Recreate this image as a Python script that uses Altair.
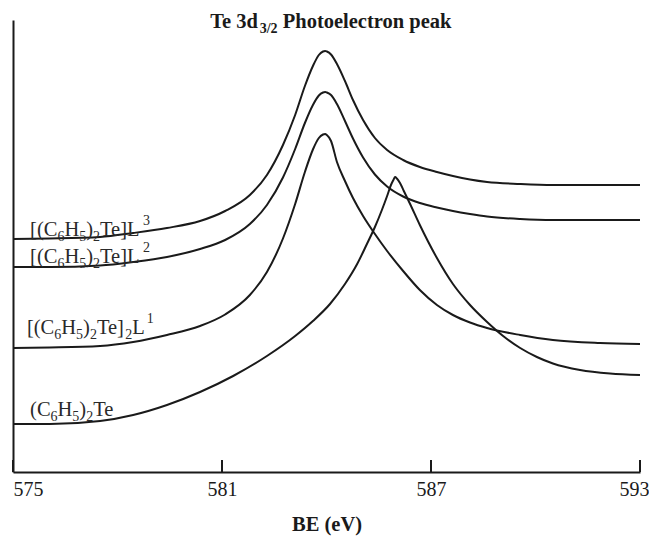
import altair as alt
import pandas as pd

# ---------------- data ----------------
# binding energy (eV) and intensity (arbitrary units) for each spectrum
BE_L3 = [575.00, 576.06, 577.50, 578.45, 579.42, 580.37, 581.09, 581.80, 582.29, 582.75,
         583.10, 583.38, 583.61, 583.78, 583.90, 583.96, 584.01, 584.13, 584.30, 584.53,
         584.76, 585.05, 585.39, 585.74, 586.20, 586.68, 587.17, 587.63, 588.12, 588.61,
         589.56, 590.50, 591.85, 593.00]
I_L3 = [233, 233.5, 235, 239, 244, 251, 261, 277, 297, 327,
        357, 386, 406, 417, 420.5, 421, 420.5, 417.5, 408, 391,
        372, 352, 334, 322, 312, 305, 300, 296, 292.5, 290,
        288, 287, 287, 287]

BE_L2 = BE_L3
I_L2 = [205, 205, 206.5, 210, 215, 223, 232, 248, 267, 294.5,
        323, 349, 367, 376.5, 379.5, 380, 379.5, 377, 368, 351,
        333.5, 314.5, 297.5, 285.5, 275.5, 269, 264.5, 261, 258, 255.5,
        253, 252, 252, 252]

BE_L1 = BE_L3
I_L1 = [124, 124.5, 126, 130, 137, 146, 157.5, 177, 200, 233.5,
        268, 300, 322.5, 334, 337.5, 338, 337, 331, 310, 291,
        274, 256, 238, 221, 201, 182, 167, 157, 149.5, 144,
        137, 132, 129, 128]

BE_TE = [575.00, 576.06, 577.50, 578.45, 579.42, 580.37, 581.32, 582.29, 583.10, 583.61,
         584.10, 584.53, 584.88, 585.16, 585.39, 585.59, 585.74, 585.85, 585.92, 585.97,
         586.02, 586.11, 586.22, 586.40, 586.68, 587.17, 587.63, 588.12, 588.61, 589.07,
         589.56, 590.04, 590.50, 591.28, 592.14, 593.00]
I_TE = [48, 48, 51, 57, 67, 80, 96, 116, 136, 151,
        168, 188, 208, 228, 245, 262, 276, 287, 292, 295,
        293.5, 289, 281, 268, 247, 214, 188, 167, 150, 136,
        124, 115, 108.5, 102, 98.5, 97]

SERIES = ["L3", "L2", "L1", "Te"]
TICK_VALUES = [575, 581, 587, 593]

# label texts split in (text, kind) pieces: n = normal, b = subscript, p = superscript
LABEL_PIECES = {
    "L3": [("[(C", "n"), ("6", "b"), ("H", "n"), ("5", "b"), (")", "n"), ("2", "b"), ("Te]L", "n"), ("3", "p")],
    "L2": [("[(C", "n"), ("6", "b"), ("H", "n"), ("5", "b"), (")", "n"), ("2", "b"), ("Te]L", "n"), ("2", "p")],
    "L1": [("[(C", "n"), ("6", "b"), ("H", "n"), ("5", "b"), (")", "n"), ("2", "b"), ("Te]", "n"), ("2", "b"),
           ("L", "n"), ("1", "p")],
    "Te": [("(C", "n"), ("6", "b"), ("H", "n"), ("5", "b"), (")", "n"), ("2", "b"), ("Te", "n")],
}
LABEL_BE = [575.49, 575.49, 575.40, 575.49]
LABEL_I = [236, 209, 138, 56]

TITLE_PIECES = [("Te 3d", "n"), ("3/2", "b"), (" Photoelectron peak", "n")]
TITLE_BE = 580.66
TITLE_I = 444

# ---------------- styling ----------------
W, H = 627, 452
X_DOMAIN = [575, 593]
Y_DOMAIN = [0, 452]
PX_PER_EV = W / (X_DOMAIN[1] - X_DOMAIN[0])
PX_PER_I = H / (Y_DOMAIN[1] - Y_DOMAIN[0])
INK = "#1a1a1a"
FONT = "Liberation Serif"

# Times-compatible advance widths (per 1000 em)
REG_W = {"[": 333, "(": 333, ")": 333, "]": 333, "C": 667, "H": 722, "T": 611, "e": 444, "L": 611, " ": 250}
BOLD_W = {"T": 667, "e": 444, " ": 250, "d": 556, "/": 278, "P": 611, "h": 556, "o": 500, "t": 333,
          "l": 278, "c": 444, "r": 444, "n": 556, "p": 556, "a": 500, "k": 556}


def text_width(s, size, table):
    return sum((500 if ch.isdigit() else table.get(ch, 500)) for ch in s) * size / 1000.0


def pieces_frame(pieces, be0, i0, main, small, table, sub_dy, sup_dy, sup_gap):
    rows = []
    cx = 0.0
    for txt, kind in pieces:
        size = main if kind == "n" else small
        dy = 0 if kind == "n" else (sub_dy if kind == "b" else sup_dy)
        if kind == "p":
            cx += sup_gap
        lead = len(txt) - len(txt.lstrip(" "))
        cx_txt = cx + text_width(txt[:lead], size, table)
        rows.append({"x": be0 + cx_txt / PX_PER_EV,
                     "y": i0 - dy / PX_PER_I,
                     "text": txt.strip(" "),
                     "size": size})
        cx += text_width(txt, size, table)
    return rows


curve_rows = []
for name, bes, vals in [("L3", BE_L3, I_L3), ("L2", BE_L2, I_L2), ("L1", BE_L1, I_L1), ("Te", BE_TE, I_TE)]:
    for b, v in zip(bes, vals):
        curve_rows.append({"series": name, "be": b, "v": v})
curves = pd.DataFrame(curve_rows)

label_rows = []
for name, b, v in zip(SERIES, LABEL_BE, LABEL_I):
    label_rows += pieces_frame(LABEL_PIECES[name], b, v, 20.5, 14, REG_W, 5, -11, 2)
labels = pd.DataFrame(label_rows)

title_df = pd.DataFrame(pieces_frame(TITLE_PIECES, TITLE_BE, TITLE_I, 20.5, 14, BOLD_W, 5, -11, 0))
ticks_df = pd.DataFrame({"t": TICK_VALUES})

x_scale = alt.Scale(domain=X_DOMAIN, nice=False, zero=False)
y_scale = alt.Scale(domain=Y_DOMAIN, nice=False, zero=False)

x_axis = alt.Axis(values=TICK_VALUES, ticks=False, tickSize=0, grid=False, domainColor=INK, domainWidth=2,
                  labelFont=FONT, labelFontSize=20, labelColor=INK, labelPadding=7, labelFlush=False,
                  labelAlign={"condition": [{"test": "datum.value <= 575", "value": "left"},
                                            {"test": "datum.value >= 593", "value": "right"}],
                              "value": "center"},
                  labelOffset={"condition": {"test": "datum.value >= 593", "value": 9}, "value": 0},
                  title="BE (eV)", titleFont=FONT, titleFontSize=20.5, titleFontWeight="bold",
                  titleColor=INK, titlePadding=15, format="d")
y_axis = alt.Axis(labels=False, ticks=False, grid=False, title=None, domainColor=INK, domainWidth=2)

lines = alt.Chart(curves).mark_line(color=INK, strokeWidth=2, interpolate="monotone").encode(
    x=alt.X("be:Q", scale=x_scale, axis=x_axis),
    y=alt.Y("v:Q", scale=y_scale, axis=y_axis),
    detail="series:N",
)

tick_marks = alt.Chart(ticks_df).mark_rule(color=INK, strokeWidth=2).encode(
    x=alt.X("t:Q", scale=x_scale),
    y=alt.value(H),
    y2=alt.value(H - 12),
)

label_text = alt.Chart(labels).mark_text(align="left", baseline="alphabetic", font=FONT, color="#2a2a2a").encode(
    x=alt.X("x:Q", scale=x_scale),
    y=alt.Y("y:Q", scale=y_scale),
    text="text:N",
    size=alt.Size("size:Q", scale=None, legend=None),
)

title_text = alt.Chart(title_df).mark_text(align="left", baseline="alphabetic", font=FONT, fontWeight="bold",
                                           color=INK).encode(
    x=alt.X("x:Q", scale=x_scale),
    y=alt.Y("y:Q", scale=y_scale),
    text="text:N",
    size=alt.Size("size:Q", scale=None, legend=None),
)

chart = alt.layer(lines, tick_marks, label_text, title_text).properties(
    width=W, height=H,
    padding={"left": 5, "top": 12, "right": 9, "bottom": 64},
    autosize=alt.AutoSizeParams(type="none"),
).configure_view(stroke=None)

chart.save("out.html", embed_options={"renderer": "svg", "actions": False})
